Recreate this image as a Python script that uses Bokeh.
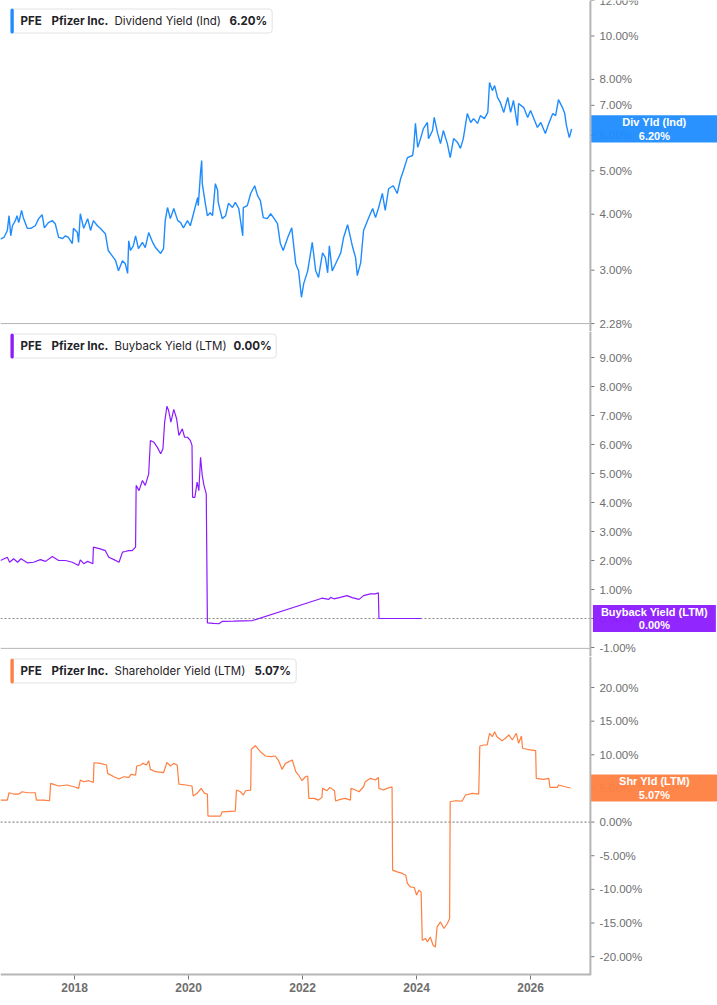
from bokeh.plotting import figure
from bokeh.layouts import column
from bokeh.models import Range1d, FixedTicker, PrintfTickFormatter, Span, Label
from bokeh.core.properties import value
from bokeh.embed import file_html
from bokeh.resources import INLINE

# ---- data (x = decimal year, y = percent) ----
div_years = [2016.70, 2016.76, 2016.82, 2016.85, 2016.88, 2016.91, 2016.96, 2016.99, 2017.02, 2017.07,
             2017.10, 2017.17, 2017.23, 2017.31, 2017.37, 2017.43, 2017.47, 2017.54, 2017.61, 2017.66,
             2017.72, 2017.79, 2017.84, 2017.89, 2017.96, 2017.98, 2018.05, 2018.07, 2018.10, 2018.16,
             2018.23, 2018.28, 2018.33, 2018.40, 2018.45, 2018.54, 2018.59, 2018.66, 2018.72, 2018.77,
             2018.84, 2018.89, 2018.93, 2018.95, 2018.98, 2019.03, 2019.07, 2019.12, 2019.19, 2019.24,
             2019.30, 2019.37, 2019.42, 2019.51, 2019.56, 2019.59, 2019.63, 2019.68, 2019.74, 2019.81,
             2019.86, 2019.91, 2019.98, 2020.03, 2020.09, 2020.16, 2020.17, 2020.21, 2020.23, 2020.24,
             2020.30, 2020.33, 2020.38, 2020.42, 2020.47, 2020.51, 2020.52, 2020.59, 2020.65, 2020.70,
             2020.77, 2020.82, 2020.88, 2020.95, 2020.96, 2021.03, 2021.09, 2021.16, 2021.21, 2021.26,
             2021.31, 2021.38, 2021.44, 2021.49, 2021.56,
             2021.61, 2021.66, 2021.74, 2021.81, 2021.88, 2021.93, 2021.98, 2022.02, 2022.09, 2022.17,
             2022.23, 2022.28, 2022.35, 2022.40, 2022.44, 2022.47, 2022.52, 2022.58, 2022.67, 2022.72,
             2022.79, 2022.88, 2022.93, 2022.96, 2023.02, 2023.07, 2023.16, 2023.23, 2023.28, 2023.33,
             2023.40, 2023.45, 2023.51, 2023.59, 2023.66, 2023.72, 2023.77, 2023.84, 2023.93, 2023.95,
             2023.98, 2024.02, 2024.07, 2024.12, 2024.19, 2024.21, 2024.28, 2024.31, 2024.37, 2024.42,
             2024.47, 2024.54, 2024.59, 2024.65, 2024.72, 2024.77, 2024.82, 2024.89, 2024.95, 2025.00,
             2025.07, 2025.12, 2025.19, 2025.25, 2025.28, 2025.33, 2025.37, 2025.42, 2025.47, 2025.53,
             2025.60, 2025.65, 2025.70, 2025.77, 2025.79, 2025.88, 2025.95, 2026.00, 2026.05, 2026.12,
             2026.18, 2026.26, 2026.32, 2026.39, 2026.44, 2026.49, 2026.56, 2026.60, 2026.63, 2026.68,
             2026.72]
div_yield = [3.52, 3.55, 3.68, 3.97, 3.58, 3.77, 3.87, 3.97, 3.83, 4.08,
             3.93, 3.72, 3.72, 3.77, 3.91, 3.99, 3.73, 3.83, 3.87, 3.81,
             3.55, 3.53, 3.58, 3.55, 3.44, 3.72, 3.64, 3.46, 4.01, 3.72,
             3.91, 3.68, 3.87, 3.77, 3.72, 3.62, 3.32, 3.23, 3.15, 2.99,
             3.15, 3.10, 2.95, 3.49, 3.32, 3.40, 3.58, 3.35, 3.46, 3.37,
             3.64, 3.46, 3.37, 3.27, 3.35, 3.87, 4.14, 3.91, 4.12, 3.87,
             3.83, 3.73, 3.87, 3.77, 4.03, 4.36, 4.18, 4.96, 5.27, 4.68,
             4.18, 3.97, 4.03, 3.97, 4.68, 4.52, 4.25, 3.91, 3.97, 4.23,
             4.14, 4.25, 4.12, 3.58, 4.14, 4.18, 4.45, 4.63, 4.40, 4.29,
             3.93, 3.91, 4.01, 3.93, 3.81,
             3.44, 3.32, 3.55, 3.73, 3.10, 2.99, 2.61, 2.80, 2.99, 3.46,
             2.99, 2.89, 3.28, 3.20, 2.96, 3.40, 2.99, 3.10, 3.28, 3.55,
             3.79, 3.37, 3.20, 2.92, 3.12, 3.68, 3.93, 4.12, 3.93, 4.12,
             4.45, 4.08, 4.56, 4.63, 4.45, 4.80, 5.01, 5.35, 5.41, 5.64,
             6.38, 5.64, 5.90, 6.21, 6.41, 5.90, 6.15, 6.58, 6.06, 5.75,
             6.15, 5.75, 5.35, 5.90, 5.78, 5.61, 5.90, 6.71, 6.41, 6.54,
             6.38, 6.64, 6.54, 6.75, 7.87, 7.55, 7.75, 7.29, 7.10, 6.75,
             7.29, 6.75, 7.18, 6.31, 7.07, 6.92, 6.58, 6.82, 6.58, 6.25,
             6.41, 6.06, 6.38, 6.71, 6.64, 7.21, 6.92, 6.71, 6.31, 5.93,
             6.20]

bb_years = [2016.70, 2016.82, 2016.86, 2016.93, 2017.00, 2017.06, 2017.17, 2017.28, 2017.40, 2017.49,
            2017.61, 2017.72, 2017.84, 2017.96, 2018.07, 2018.10, 2018.16, 2018.23, 2018.32, 2018.33,
            2018.45, 2018.54, 2018.60, 2018.69, 2018.78, 2018.84, 2018.89, 2018.95, 2019.01, 2019.07,
            2019.08, 2019.13, 2019.19, 2019.24, 2019.30, 2019.33, 2019.39, 2019.45, 2019.51, 2019.55,
            2019.58, 2019.62, 2019.65, 2019.69, 2019.74, 2019.79, 2019.83, 2019.89, 2019.93, 2019.98,
            2020.03, 2020.06, 2020.07, 2020.11, 2020.15, 2020.18, 2020.21, 2020.24, 2020.27, 2020.31,
            2020.33, 2020.44, 2020.53, 2020.59, 2020.79, 2021.12, 2022.34, 2022.46, 2022.49, 2022.55,
            2022.66, 2022.78, 2022.87, 2022.99, 2023.07, 2023.19, 2023.28, 2023.33, 2023.34, 2024.08]
bb_yield = [2.00, 2.11, 1.94, 2.06, 1.94, 2.06, 1.92, 1.94, 2.03, 1.97,
            2.14, 2.00, 2.00, 1.94, 1.83, 2.02, 1.89, 1.97, 1.89, 2.46,
            2.40, 2.34, 2.11, 2.03, 1.94, 2.29, 2.31, 2.34, 2.34, 2.46,
            4.59, 4.41, 4.76, 4.59, 4.99, 6.14, 6.08, 5.91, 5.68, 5.85,
            6.77, 7.32, 7.17, 6.77, 7.21, 6.89, 6.31, 6.54, 6.25, 6.25,
            6.14, 5.97, 4.18, 4.18, 4.70, 4.41, 5.56, 4.93, 4.59, 4.30,
            -0.15, -0.17, -0.18, -0.10, -0.09, -0.07, 0.70, 0.66, 0.73, 0.68,
            0.73, 0.79, 0.72, 0.66, 0.79, 0.85, 0.85, 0.89, 0.00, 0.00]

shr_years = [2016.70, 2016.82, 2016.85, 2016.93, 2017.02, 2017.08, 2017.17, 2017.31, 2017.33, 2017.46,
             2017.56, 2017.58, 2017.72, 2017.87, 2017.99, 2018.07, 2018.10, 2018.16, 2018.25, 2018.33,
             2018.34, 2018.45, 2018.56, 2018.58, 2018.69, 2018.78, 2018.86, 2018.95, 2018.99, 2019.07,
             2019.09, 2019.16, 2019.20, 2019.26, 2019.30, 2019.33, 2019.42, 2019.56, 2019.62, 2019.68,
             2019.74, 2019.80, 2019.83, 2019.95, 2020.06, 2020.08, 2020.15, 2020.22, 2020.28, 2020.33,
             2020.34, 2020.44, 2020.56, 2020.59, 2020.82, 2020.84, 2020.91, 2020.96, 2021.00, 2021.09,
             2021.10, 2021.17, 2021.26, 2021.35, 2021.44, 2021.52, 2021.58, 2021.64, 2021.70, 2021.82,
             2021.88, 2021.93, 2021.99, 2022.05, 2022.09, 2022.11, 2022.20, 2022.28, 2022.34, 2022.35,
             2022.43, 2022.48, 2022.56, 2022.58, 2022.66, 2022.75, 2022.84, 2022.85, 2022.93, 2022.99,
             2023.07, 2023.10, 2023.19, 2023.28, 2023.33, 2023.34, 2023.42, 2023.48, 2023.57, 2023.58,
             2023.66, 2023.75, 2023.81, 2023.84, 2023.89, 2023.96, 2024.00, 2024.04, 2024.08, 2024.10,
             2024.16, 2024.19, 2024.24, 2024.29, 2024.33, 2024.36, 2024.42, 2024.48, 2024.54, 2024.58,
             2024.59, 2024.68, 2024.80, 2024.86, 2024.98, 2025.09, 2025.11, 2025.18, 2025.24, 2025.28,
             2025.33, 2025.37, 2025.41, 2025.50, 2025.56, 2025.62, 2025.68, 2025.75, 2025.79, 2025.84,
             2025.86, 2025.94, 2026.09, 2026.10, 2026.23, 2026.32, 2026.34, 2026.47, 2026.49, 2026.61,
             2026.70]
shr_yield = [3.27, 3.27, 4.36, 4.17, 4.17, 4.51, 4.36, 4.36, 3.27, 3.27,
             3.17, 5.76, 5.36, 5.51, 5.25, 5.01, 6.25, 6.00, 6.15, 5.91,
             8.82, 8.73, 8.48, 7.24, 6.74, 6.40, 6.74, 6.65, 7.09, 6.99,
             8.33, 8.48, 8.73, 8.48, 9.12, 7.84, 7.49, 7.34, 8.88, 8.33,
             8.73, 8.48, 5.65, 5.51, 5.36, 3.87, 4.27, 5.01, 4.27, 4.17,
             0.89, 0.89, 0.89, 1.53, 1.64, 4.76, 4.51, 4.02, 4.66, 4.76,
             10.82, 11.35, 10.46, 9.82, 9.72, 9.82, 9.12, 7.84, 8.73, 9.23,
             7.49, 6.99, 6.15, 6.74, 6.85, 3.52, 3.52, 3.27, 3.67, 5.01,
             4.66, 5.16, 4.66, 3.13, 3.38, 3.52, 3.27, 5.01, 4.76, 4.51,
             5.25, 6.00, 6.50, 6.25, 6.65, 5.01, 4.76, 5.01, 5.25, -7.14,
             -7.40, -7.63, -7.89, -9.12, -9.63, -9.72, -10.86, -10.12, -10.37, -17.56,
             -17.31, -17.81, -17.07, -18.30, -18.56, -15.58, -14.84, -15.82, -15.07, -14.33,
             3.02, 3.17, 3.13, 4.02, 4.27, 4.17, 11.31, 11.46, 11.46, 13.20,
             12.69, 13.44, 12.69, 12.10, 12.46, 12.95, 12.20, 13.20, 11.71, 12.80,
             10.97, 10.82, 10.61, 6.50, 6.35, 6.50, 5.16, 5.16, 5.51, 5.25,
             5.07]

div_ticks = [2.28, 3, 4, 5, 6, 7, 8, 10, 12]
bb_ticks = [-1, 0, 1, 2, 3, 4, 5, 6, 7, 8, 9]
shr_ticks = [-20, -15, -10, -5, 0, 5, 10, 15, 20]
year_ticks = [2018, 2020, 2022, 2024, 2026]

BLUE = "#1E8CFF"
PURPLE = "#8C1AFF"
ORANGE = "#FF7F41"
AXIS_GREY = "#b5b5b5"
TEXT_GREY = "#6e6e6e"

# the value axis sits inside the plot area, the strip right of it holds the value tags
X0, X1 = 2016.70, 2029.28
AXIS_X = 2027.05
x_range = Range1d(X0, X1)


def panel(h, y_range, ticks, rule_at, log=False, xaxis=False):
    p = figure(frame_width=717, frame_height=h, x_range=x_range, y_range=y_range,
               y_axis_type="log" if log else "linear", y_axis_location=None,
               x_axis_location="below" if xaxis else None,
               output_backend="svg", toolbar_location=None, min_border=0)
    p.outline_line_color = None
    p.grid.visible = False
    # value axis: line, small ticks, labels
    p.add_layout(Span(location=AXIS_X, dimension="height", line_color=AXIS_GREY, line_width=2))
    p.ray(x=AXIS_X, y=ticks, length=4, length_units="screen", angle=0,
          line_color="#777777", line_width=1)
    p.text(x=AXIS_X, y=ticks, text=[f"{t:.2f}%" for t in ticks], x_offset=9,
           text_baseline="middle", text_align="left", text_font=value("Liberation Sans"),
           text_font_size="11.5px", text_color=TEXT_GREY)
    # panel bottom rule (left of the value axis)
    p.segment(x0=[X0], x1=[AXIS_X], y0=[rule_at], y1=[rule_at],
              line_color=AXIS_GREY, line_width=4 if xaxis else 1)
    if xaxis:
        xa = p.xaxis[0]
        xa.ticker = FixedTicker(ticks=year_ticks)
        xa.formatter = PrintfTickFormatter(format="%d")
        xa.axis_line_color = None
        xa.major_tick_line_color = "#777777"
        xa.major_tick_out = 4
        xa.major_tick_in = 0
        xa.minor_tick_line_color = None
        xa.major_label_standoff = 3
        xa.major_label_text_color = TEXT_GREY
        xa.major_label_text_font = "Liberation Sans"
        xa.major_label_text_font_style = "bold"
        xa.major_label_text_font_size = "12px"
    return p


def header(p, top, box_w, color, metric, val, val_x):
    x0, y0 = p.x_range.start, p.y_range.end
    common = dict(x=x0, y=y0, y_offset=-top, text_baseline="middle")
    p.add_layout(Label(text=" ", x_offset=10 + box_w / 2, text_align="center",
                       text_font_size="12px", background_fill_color="white",
                       border_line_color="#e2e2e2", border_radius=3,
                       padding=dict(left=int(box_w / 2 - 2), right=int(box_w / 2 - 2), top=5, bottom=5),
                       **common))
    p.add_layout(Label(text=" ", x_offset=10, text_align="left", text_font_size="1px",
                       background_fill_color=color, border_radius=2,
                       padding=dict(left=1, right=2, top=12, bottom=12), **common))
    parts = [("PFE", 20, "bold"), ("Pfizer Inc.", 51, "bold"),
             (metric, 114, "normal"), (val, val_x, "bold")]
    for txt, dx, style in parts:
        p.add_layout(Label(text=txt, x_offset=dx, text_align="left", text_font="Inter",
                           text_font_size="11.5px", text_font_style=style,
                           text_color="#1f2328", **common))


def callout(p, y, text, color, pad_lr):
    p.add_layout(Label(x=AXIS_X, y=y, x_offset=64, text=text,
                       text_align="center", text_baseline="middle",
                       text_color="white", text_font="Liberation Sans",
                       text_font_style="bold", text_font_size="11px", text_line_height=1.1,
                       background_fill_color=color, background_fill_alpha=0.95,
                       padding=dict(left=pad_lr, right=pad_lr, top=1, bottom=1)))


# dividend yield (log scale); the frame runs a little past the 2.28% rule so its label shows
p1 = panel(331, Range1d(2.189, 12.0), div_ticks, 2.28, log=True)
p1.line(div_years, div_yield, line_color=BLUE, line_width=1.4)
header(p1, 20.5, 262, BLUE, "Dividend Yield (Ind)", f"{div_yield[-1]:.2f}%", 229)
callout(p1, div_yield[-1], f"Div Yld (Ind)\n{div_yield[-1]:.2f}%", BLUE, 31)

# buyback yield
p2 = panel(325, Range1d(-1.31, 9.897), bb_ticks, -1.03)
p2.segment(x0=[X0], x1=[AXIS_X], y0=[0], y1=[0], line_color="#8a8a8a",
           line_width=1.2, line_dash="2 2")
p2.line(bb_years, bb_yield, line_color=PURPLE, line_width=1.2)
header(p2, 14.5, 266, PURPLE, "Buyback Yield (LTM)", f"{bb_yield[-1]:.2f}%", 233)
callout(p2, bb_yield[-1], f"Buyback Yield (LTM)\n{bb_yield[-1]:.2f}%", PURPLE, 8)

# shareholder yield
p3 = panel(319, Range1d(-22.8, 24.61), shr_ticks, -22.8, xaxis=True)
p3.segment(x0=[X0], x1=[AXIS_X], y0=[0], y1=[0], line_color="#8a8a8a",
           line_width=1.2, line_dash="2 2")
p3.line(shr_years, shr_yield, line_color=ORANGE, line_width=1.2)
header(p3, 14.5, 286, ORANGE, "Shareholder Yield (LTM)", f"{shr_yield[-1]:.2f}%", 254)
callout(p3, shr_yield[-1], f"Shr Yld (LTM)\n{shr_yield[-1]:.2f}%", ORANGE, 28)

layout = column(p1, p2, p3, spacing=0)
open("out.html", "w").write(file_html(layout, INLINE))
